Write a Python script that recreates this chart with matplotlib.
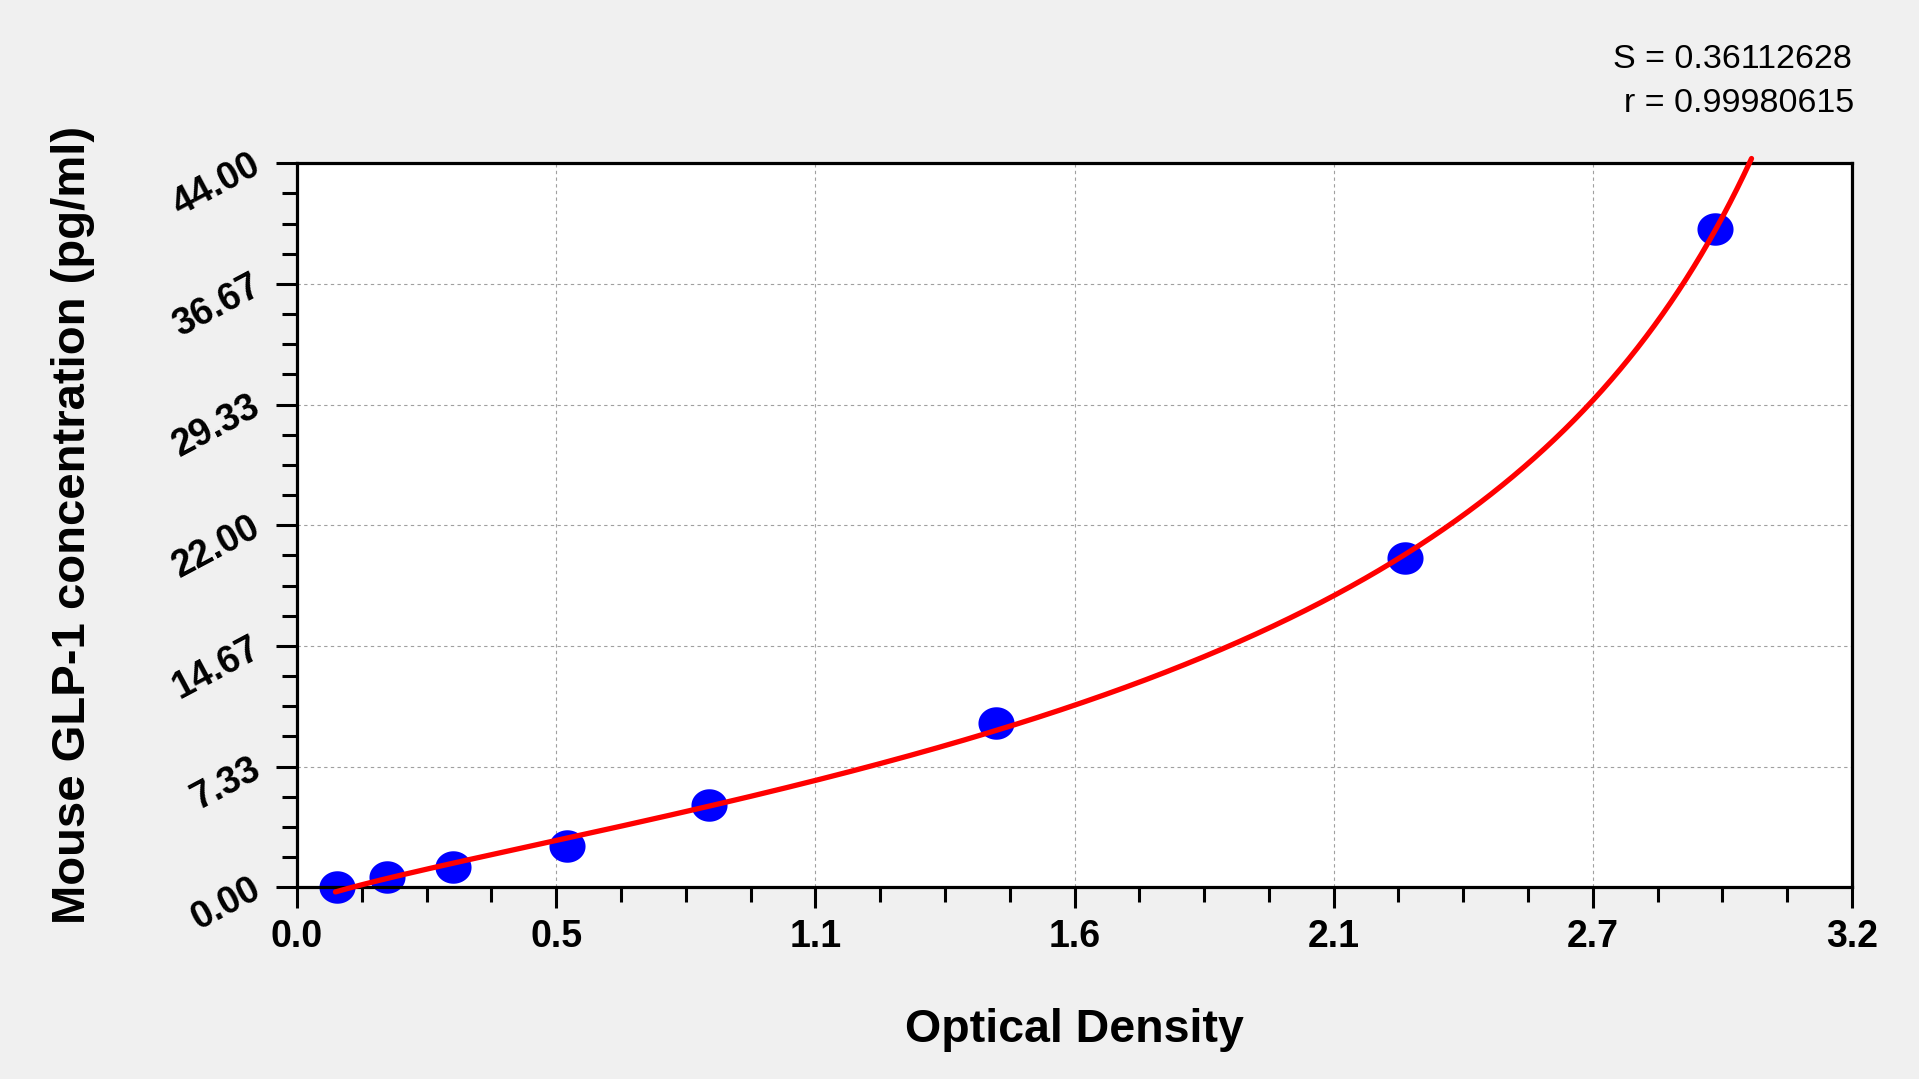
import numpy as np
import matplotlib
matplotlib.use('Agg')
import matplotlib.pyplot as plt
from matplotlib.path import Path
from matplotlib.ticker import FixedLocator, AutoMinorLocator

# standard curve data (OD vs concentration)
od = [0.082, 0.186, 0.320, 0.555, 0.848, 1.439, 2.280, 2.919]
conc = [0.0, 0.625, 1.25, 2.5, 5.0, 10.0, 20.0, 40.0]
curve_start = 0.079

x_ticks = np.linspace(0, 3.2, 7)
y_ticks = np.linspace(0, 44, 7)
x_labels = ['%.1f' % v for v in x_ticks]
y_labels = ['%.2f' % v for v in y_ticks]

stat_s = 'S = 0.36112628'
stat_r = 'r = 0.99980615'


def fit_curve(x, y):
    # conc = e + c * ((OD - a) / (d - OD)) ** k, grid over a, d, k; c and e by least squares
    x = np.asarray(x)
    y = np.asarray(y)
    ks = np.linspace(0.5, 1.5, 101)
    best = None
    for a in np.linspace(0.0, 0.078, 14):
        for d in np.linspace(3.0, 6.0, 301):
            u = (x - a) / (d - x)
            U = u[None, :] ** ks[:, None]
            um = U.mean(axis=1, keepdims=True)
            c = ((U - um) * (y - y.mean())).sum(axis=1) / ((U - um) ** 2).sum(axis=1)
            e = y.mean() - c * um[:, 0]
            err = ((e[:, None] + c[:, None] * U - y) ** 2).sum(axis=1)
            i = np.argmin(err)
            if best is None or err[i] < best[0]:
                best = (err[i], a, d, c[i], e[i], ks[i])
    return best[1:]


plt.rcParams['font.family'] = ['Liberation Sans', 'DejaVu Sans']

fig = plt.figure(figsize=(19.19, 10.79), dpi=100, facecolor='#F0F0F0')
ax = fig.add_axes([0.1548, 0.1777, 0.9651 - 0.1548, 0.8487 - 0.1777])
ax.set_facecolor('white')

# fitted curve
a, d, c, e, k = fit_curve(od, conc)
xs = np.linspace(curve_start, d - 0.001, 4000)
ys = e + c * ((xs - a) / (d - xs)) ** k
keep = ys <= 44.3
ax.plot(xs[keep], ys[keep], color='#FF0000', lw=3.8, solid_capstyle='round', clip_on=False, zorder=3)

# slightly wide elliptical markers
t = np.linspace(0, 2 * np.pi, 60)
ell = Path(np.column_stack([np.cos(t), 0.9 * np.sin(t)]), closed=True)
ax.plot(od, conc, linestyle='none', marker=ell, markersize=26, color='#0000FF',
        markeredgewidth=0, zorder=2, clip_on=False)

ax.set_xlim(0, 3.2)
ax.set_ylim(0, 44)
ax.xaxis.set_major_locator(FixedLocator(x_ticks))
ax.yaxis.set_major_locator(FixedLocator(y_ticks))
ax.xaxis.set_minor_locator(AutoMinorLocator(4))
ax.yaxis.set_minor_locator(AutoMinorLocator(4))
ax.set_xticklabels(x_labels, fontsize=27, fontweight='bold')
ax.set_yticklabels(y_labels, fontsize=27, fontweight='bold', rotation=28,
                   rotation_mode='anchor', ha='right', va='center')

ax.tick_params(which='major', direction='out', length=15, width=2.2, color='black')
ax.tick_params(which='minor', direction='out', length=11, width=2.2, color='black')
ax.tick_params(axis='x', which='major', pad=8)
ax.tick_params(axis='y', which='major', pad=13)

for sp in ax.spines.values():
    sp.set_linewidth(2.3)
    sp.set_color('black')

ax.grid(True, which='major', color='#A0A0A0', linestyle=(0, (3, 3)), linewidth=0.8)
ax.set_axisbelow(True)

fig.text(1074 / 1919, 1 - 1042 / 1079, 'Optical Density', fontsize=33.5,
         fontweight='bold', ha='center', va='baseline')
fig.text(85 / 1919, 1 - 525 / 1079, 'Mouse GLP-1 concentration (pg/ml)', fontsize=34,
         fontweight='bold', ha='center', va='baseline', rotation=90, rotation_mode='anchor')

fig.text(1852 / 1919, 1 - 68.3 / 1079, stat_s, fontsize=24.5, ha='right', va='baseline')
fig.text(1854 / 1919, 1 - 111.7 / 1079, stat_r, fontsize=24.5, ha='right', va='baseline')

fig.savefig('out.png', dpi=100, facecolor=fig.get_facecolor())
